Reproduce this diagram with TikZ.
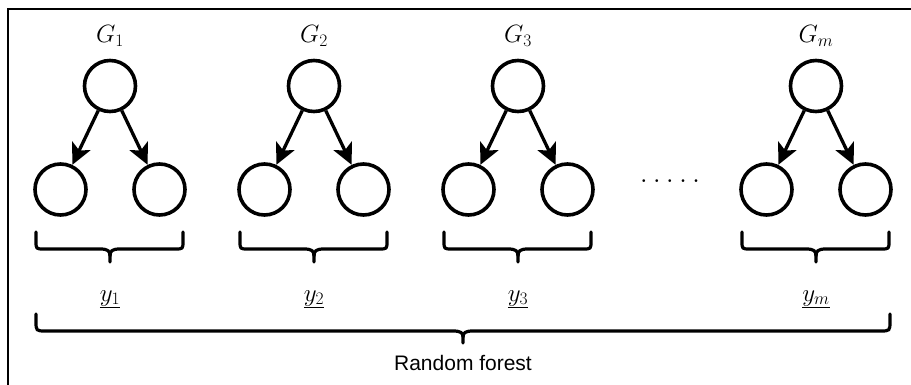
\RequirePackage{fix-cm}
\documentclass[tikz,border=0pt]{standalone}
\usepackage{fontspec}
\setsansfont{Liberation Sans}
\usetikzlibrary{arrows.meta}
\begin{document}
\begin{tikzpicture}[x=1pt,y=-1pt,
  vert/.style={circle,draw,line width=3.6pt,minimum size=51pt,inner sep=0pt},
  edge/.style={line width=3.3pt,-{Stealth[length=21pt,width=20pt,inset=5pt]}},
  bracepath/.style={line width=3.2pt,line cap=round,line join=round},
  lbl/.style={anchor=base,inner sep=0pt,font=\fontsize{25}{28}\selectfont},
  ylbl/.style={anchor=base,inner sep=0pt,font=\fontsize{25}{28}\selectfont}]
\useasboundingbox (0,0) rectangle (911,385);
% partial frame
\draw[line width=2pt] (8,385) -- (8,9) -- (911,9);

\foreach \cx/\lab/\i in {110/1/1,314/2/2,518/3/3,816/m/m}{
  \node[lbl] (G\i) at (\cx,43) {$G_{\lab}$};
  \node[vert] (r\i) at (\cx,86) {};
  \node[vert] (a\i) at (\cx-49.5,189.5) {};
  \node[vert] (b\i) at (\cx+49.5,189.5) {};
  \draw[edge] (r\i) -- (a\i);
  \draw[edge] (r\i) -- (b\i);
  \draw[bracepath] (\cx-74,232) -- (\cx-74,241) .. controls (\cx-74,249) .. (\cx-66,249)
     -- (\cx-10,249) .. controls (\cx-2,249) and (\cx,251) .. (\cx,256) -- (\cx,262);
  \draw[bracepath] (\cx+73,232) -- (\cx+73,241) .. controls (\cx+73,249) .. (\cx+65,249)
     -- (\cx+10,249) .. controls (\cx+2,249) and (\cx,251) .. (\cx,256);
  \node[ylbl] (y\i) at (\cx,301) {$\underline{y_{\lab}}$};
}

% dots
\node[anchor=base,inner sep=0pt,font=\fontsize{34}{38}\selectfont] (dots) at (670,183)
  {.\hspace{4.6pt}.\hspace{4.6pt}.\hspace{4.6pt}.\hspace{4.6pt}.};

% large brace
\draw[bracepath] (36,314) -- (36,321) .. controls (36,331) .. (46,331)
   -- (453,331) .. controls (461,331) and (463,333) .. (463,337) -- (463,343);
\draw[bracepath] (890,314) -- (890,321) .. controls (890,331) .. (880,331)
   -- (473,331) .. controls (465,331) and (463,333) .. (463,337);
\node[anchor=base,inner sep=0pt,font=\sffamily\fontsize{21}{24}\selectfont] (rf) at (463,370) {Random forest};
\end{tikzpicture}
\end{document}
